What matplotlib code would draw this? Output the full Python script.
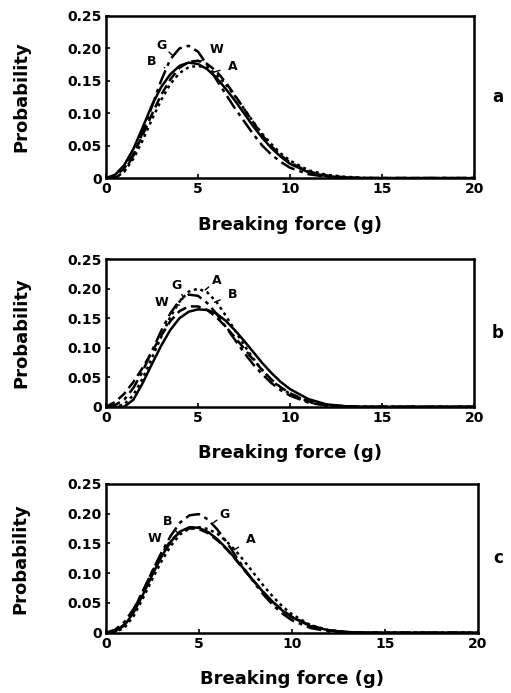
import matplotlib
matplotlib.use('Agg')
import matplotlib.pyplot as plt

# shared breaking-force grid (g)
force = [0, 0.5, 1, 1.5, 2, 2.5, 3, 3.5, 4, 4.5, 5, 5.5, 6, 6.5, 7, 7.5,
         8, 8.5, 9, 9.5, 10, 11, 12, 13, 14, 15, 16, 18, 20]

# panel a
a_B = [0, 0.005, 0.02, 0.045, 0.078, 0.112, 0.14, 0.16, 0.173, 0.178, 0.176, 0.168, 0.155, 0.138, 0.12, 0.1,
       0.08, 0.062, 0.046, 0.033, 0.022, 0.009, 0.003, 0.001, 0, 0, 0, 0, 0]
a_G = [0, 0, 0.01, 0.035, 0.07, 0.11, 0.15, 0.183, 0.2, 0.204, 0.195, 0.175, 0.152, 0.13, 0.108, 0.088,
       0.068, 0.05, 0.036, 0.025, 0.016, 0.006, 0.002, 0.0005, 0, 0, 0, 0, 0]
a_W = [0, 0.003, 0.015, 0.037, 0.066, 0.098, 0.128, 0.152, 0.17, 0.179, 0.181, 0.176, 0.165, 0.148, 0.128, 0.107,
       0.086, 0.066, 0.049, 0.035, 0.024, 0.01, 0.004, 0.001, 0, 0, 0, 0, 0]
a_A = [0, 0, 0.01, 0.03, 0.058, 0.09, 0.12, 0.145, 0.162, 0.171, 0.173, 0.17, 0.16, 0.145, 0.127, 0.107,
       0.087, 0.068, 0.052, 0.038, 0.027, 0.012, 0.005, 0.002, 0.0005, 0, 0, 0, 0]

# panel b
b_B = [0, 0, 0, 0.012, 0.04, 0.072, 0.103, 0.13, 0.15, 0.161, 0.165, 0.164, 0.158, 0.146, 0.13, 0.112,
       0.093, 0.074, 0.057, 0.042, 0.03, 0.013, 0.004, 0.001, 0, 0, 0, 0, 0]
b_G = [0, 0.003, 0.012, 0.032, 0.06, 0.094, 0.128, 0.158, 0.18, 0.19, 0.188, 0.176, 0.158, 0.136, 0.114, 0.092,
       0.072, 0.055, 0.04, 0.028, 0.019, 0.007, 0.002, 0.0005, 0, 0, 0, 0, 0]
b_W = [0, 0.008, 0.022, 0.042, 0.066, 0.093, 0.12, 0.145, 0.162, 0.17, 0.17, 0.164, 0.152, 0.136, 0.118, 0.099,
       0.08, 0.062, 0.046, 0.033, 0.023, 0.009, 0.003, 0.001, 0, 0, 0, 0, 0]
b_A = [0, 0, 0.004, 0.02, 0.048, 0.082, 0.118, 0.152, 0.178, 0.195, 0.2, 0.194, 0.178, 0.155, 0.13, 0.105,
       0.082, 0.062, 0.045, 0.032, 0.022, 0.008, 0.002, 0.0005, 0, 0, 0, 0, 0]

# panel c
c_B = [0, 0.002, 0.012, 0.034, 0.064, 0.097, 0.128, 0.153, 0.17, 0.177, 0.176, 0.169, 0.157, 0.141, 0.123, 0.104,
       0.085, 0.067, 0.051, 0.037, 0.026, 0.011, 0.004, 0.001, 0, 0, 0, 0, 0]
c_G = [0, 0.005, 0.018, 0.04, 0.07, 0.103, 0.135, 0.163, 0.185, 0.197, 0.199, 0.19, 0.173, 0.152, 0.128, 0.105,
       0.083, 0.063, 0.046, 0.032, 0.021, 0.008, 0.002, 0.0005, 0, 0, 0, 0, 0]
c_W = [0, 0.002, 0.014, 0.038, 0.07, 0.103, 0.132, 0.155, 0.169, 0.175, 0.174, 0.167, 0.155, 0.14, 0.122, 0.103,
       0.085, 0.067, 0.051, 0.038, 0.027, 0.012, 0.004, 0.001, 0, 0, 0, 0, 0]
c_A = [0, 0.001, 0.008, 0.028, 0.058, 0.09, 0.12, 0.146, 0.165, 0.175, 0.177, 0.174, 0.166, 0.153, 0.137, 0.118,
       0.098, 0.078, 0.06, 0.044, 0.031, 0.013, 0.004, 0.001, 0, 0, 0, 0, 0]

x_ticks = [0, 5, 10, 15, 20]
y_ticks = [0, 0.05, 0.10, 0.15, 0.20, 0.25]
y_tick_labels = ['0', '0.05', '0.10', '0.15', '0.20', '0.25']

# label text position, curve point the leader goes to
labels_a = {'G': ((3.0, 0.205), (3.6, 0.19)), 'W': ((6.0, 0.198), (5.1, 0.179)),
            'B': ((2.5, 0.18), (3.2, 0.17)), 'A': ((6.9, 0.172), (5.7, 0.162))}
labels_b = {'G': ((3.85, 0.206), (4.2, 0.186)), 'A': ((6.0, 0.214), (5.4, 0.198)),
            'W': ((3.0, 0.177), (4.0, 0.172)), 'B': ((6.9, 0.19), (5.9, 0.177))}
labels_c = {'G': ((6.4, 0.198), (5.8, 0.185)), 'B': ((3.3, 0.186), (3.85, 0.168)),
            'W': ((2.6, 0.158), (3.5, 0.148)), 'A': ((7.8, 0.156), (6.9, 0.139))}

panels = [
    ('a', [0.207, 0.743, 0.721, 0.234], (a_B, a_G, a_W, a_A), labels_a),
    ('b', [0.207, 0.413, 0.721, 0.213], (b_B, b_G, b_W, b_A), labels_b),
    ('c', [0.207, 0.087, 0.728, 0.215], (c_B, c_G, c_W, c_A), labels_c),
]
styles = {'B': '-', 'G': (0, (6, 2, 1.5, 2)), 'W': (0, (4, 2)), 'A': (0, (1.2, 1.5))}

fig = plt.figure(figsize=(5.11, 6.93), dpi=100)
fig.patch.set_facecolor('white')

for tag, rect, curves, labels in panels:
    ax = fig.add_axes(rect)
    for name, ys in zip(['B', 'G', 'W', 'A'], curves):
        ax.plot(force, ys, color='black', lw=1.8, linestyle=styles[name])
    for name, (txt, pt) in labels.items():
        ax.annotate(name, xy=pt, xytext=txt, fontsize=9, fontweight='bold',
                    ha='center', va='center',
                    arrowprops=dict(arrowstyle='-', color='black', lw=1.0,
                                    shrinkA=4, shrinkB=0))
    ax.set_xlim(0, 20)
    ax.set_ylim(0, 0.25)
    ax.set_xticks(x_ticks)
    ax.set_xticklabels([str(t) for t in x_ticks])
    ax.set_yticks(y_ticks)
    ax.set_yticklabels(y_tick_labels)
    ax.tick_params(direction='in', length=3, width=1.2, labelsize=10, pad=3)
    for lab in ax.get_xticklabels() + ax.get_yticklabels():
        lab.set_fontweight('bold')
    for sp in ax.spines.values():
        sp.set_linewidth(1.8)
    ax.set_xlabel('Breaking force (g)', fontsize=13, fontweight='heavy', labelpad=14)
    ax.set_ylabel('Probability', fontsize=13, fontweight='bold')
    ax.yaxis.set_label_coords(-0.205, 0.5)
    fig.text(0.985, rect[1] + rect[3] * 0.5, tag, fontsize=12,
             fontweight='bold', ha='right', va='center')

fig.savefig('out.png', dpi=100)
